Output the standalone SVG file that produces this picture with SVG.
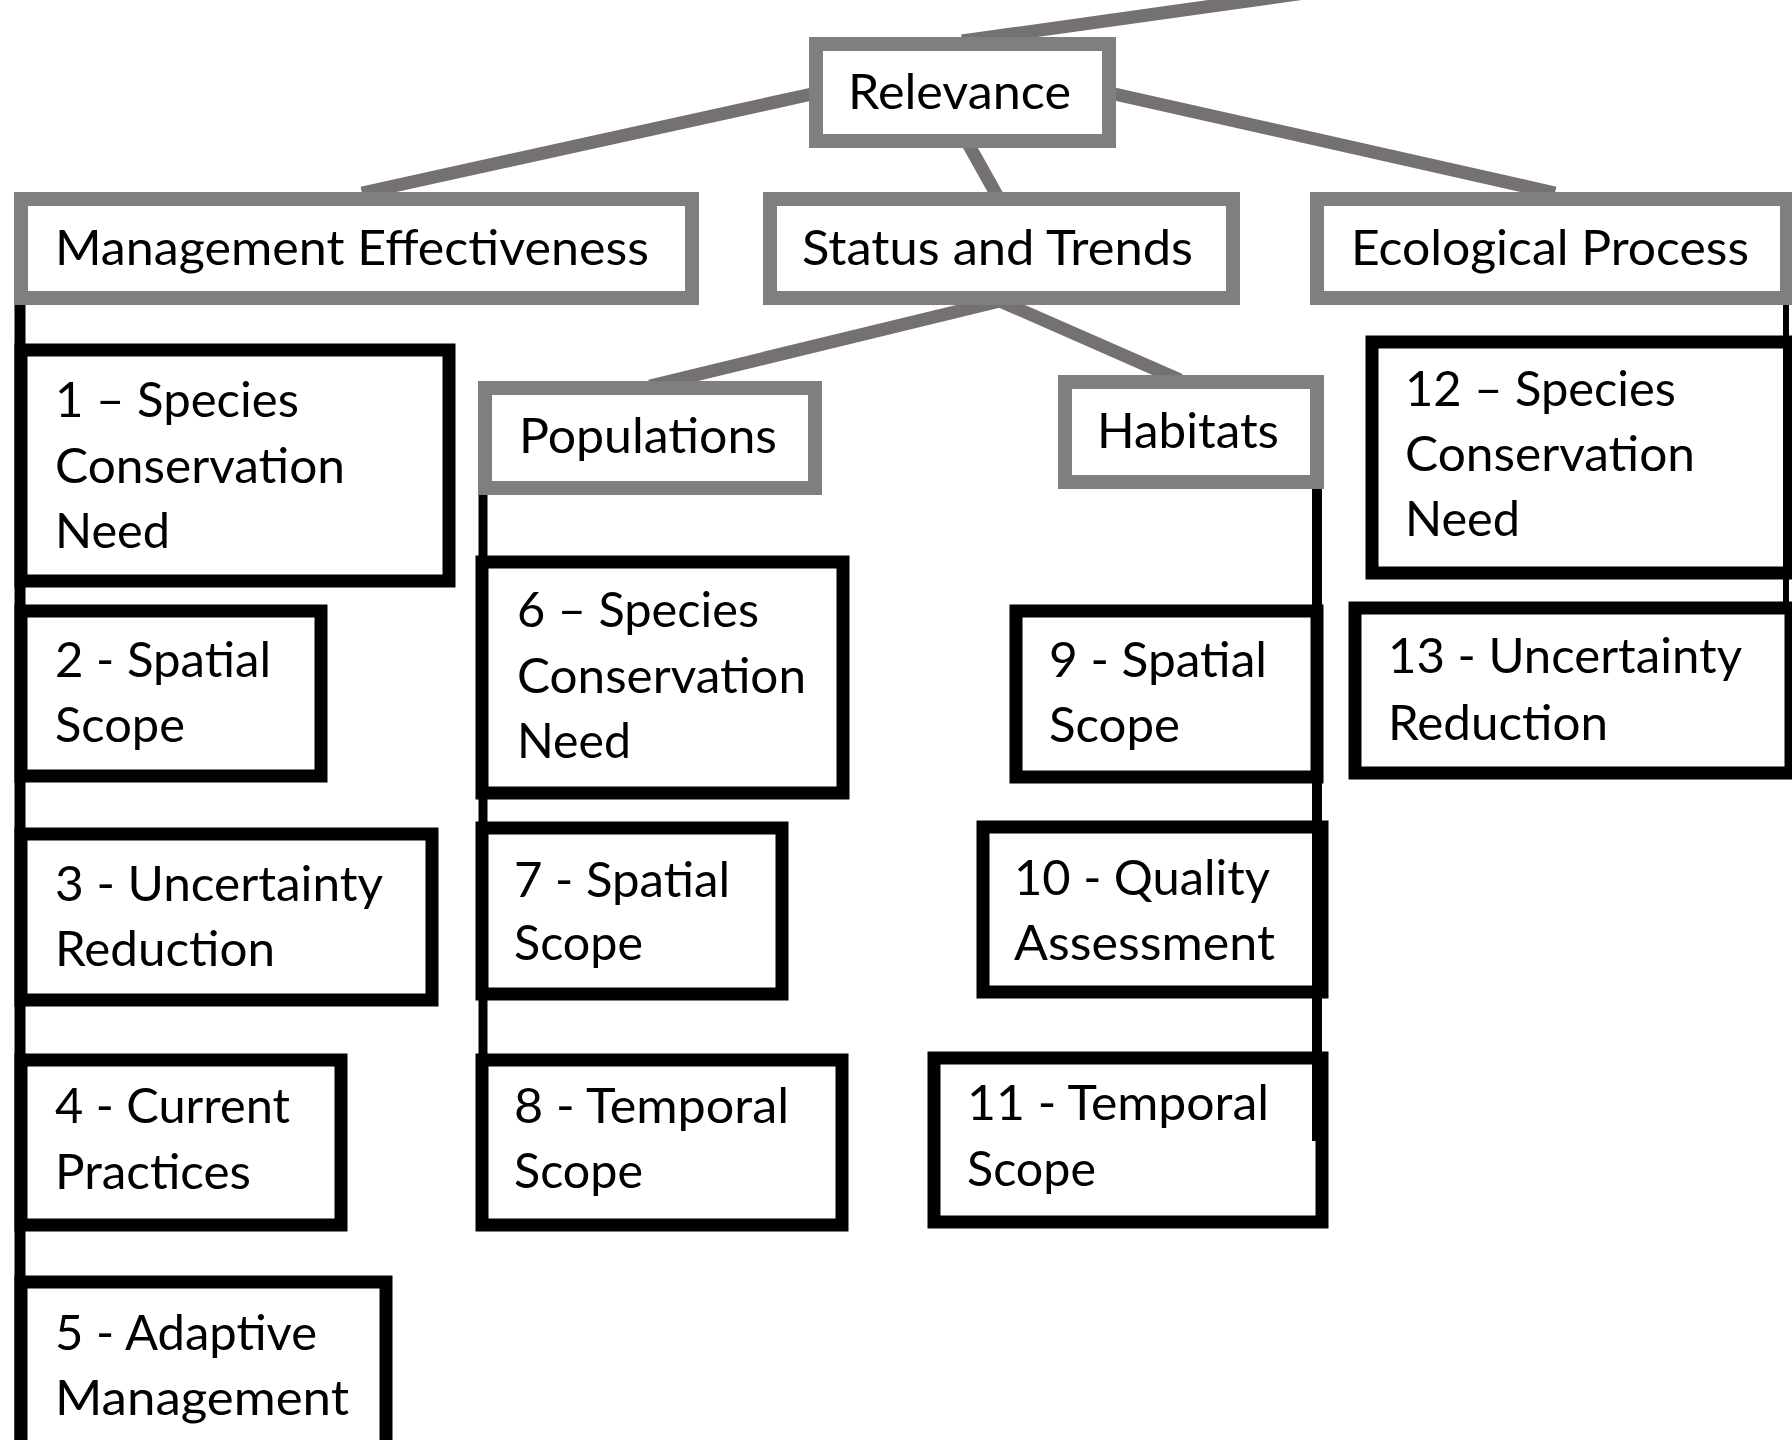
<svg xmlns="http://www.w3.org/2000/svg" width="1792" height="1440" viewBox="0 0 1792 1440">
  <style>
    .bg { fill: #ffffff; }
    .cat { fill: none; stroke: #7f7f7f; stroke-width: 14; }
    .item { fill: none; stroke: #000000; stroke-width: 13; }
    .link { stroke: #767171; stroke-width: 13; fill: none; }
    .stem { stroke: #000000; fill: none; }
    text { font-family: Lato, "Open Sans", "Liberation Sans", sans-serif; font-size: 48px; fill: #000000; }
  </style>
  <rect class="bg" x="0" y="0" width="1792" height="1440"/>

  <!-- tree connectors -->
  <g id="connectors">
    <line class="link" x1="962" y1="41" x2="1400" y2="-20.3"/>
    <line class="link" x1="812" y1="94" x2="362" y2="193"/>
    <line class="link" x1="966" y1="140" x2="999" y2="199"/>
    <line class="link" x1="1110" y1="93" x2="1555" y2="193"/>
    <line class="link" x1="1000" y1="301" x2="650" y2="386"/>
    <line class="link" x1="1000" y1="301" x2="1180" y2="380"/>
    <line class="stem" stroke-width="11" x1="20" y1="305" x2="20" y2="1440"/>
    <line class="stem" stroke-width="9" x1="483" y1="494" x2="483" y2="1056"/>
    <line class="stem" stroke-width="10" x1="1317" y1="488" x2="1317" y2="1141"/>
    <line class="stem" stroke-width="6" x1="1786" y1="305" x2="1786" y2="610"/>
  </g>

  <!-- category nodes -->
  <g id="relevance">
    <rect class="cat" x="816" y="44" width="293" height="97"/>
    <text x="848" y="109" textLength="223" lengthAdjust="spacingAndGlyphs">Relevance</text>
  </g>
  <g id="management-effectiveness">
    <rect class="cat" x="21" y="199" width="671" height="99"/>
    <text x="55" y="265" textLength="594" lengthAdjust="spacingAndGlyphs">Management Effectiveness</text>
  </g>
  <g id="status-and-trends">
    <rect class="cat" x="770" y="199" width="463" height="99"/>
    <text x="802" y="265" textLength="391" lengthAdjust="spacingAndGlyphs">Status and Trends</text>
  </g>
  <g id="ecological-process">
    <rect class="cat" x="1317" y="199" width="470" height="99"/>
    <text x="1351" y="265" textLength="398" lengthAdjust="spacingAndGlyphs">Ecological Process</text>
  </g>
  <g id="populations">
    <rect class="cat" x="485" y="388" width="330" height="100"/>
    <text x="519" y="453" textLength="258" lengthAdjust="spacingAndGlyphs">Populations</text>
  </g>
  <g id="habitats">
    <rect class="cat" x="1065" y="382" width="252" height="100"/>
    <text x="1097" y="448" textLength="182" lengthAdjust="spacingAndGlyphs">Habitats</text>
  </g>

  <!-- criteria nodes -->
  <g id="n1">
    <rect class="item" x="21" y="350" width="428" height="231"/>
    <text x="55" y="417" textLength="244" lengthAdjust="spacingAndGlyphs">1 – Species</text>
    <text x="55" y="483" textLength="290" lengthAdjust="spacingAndGlyphs">Conservation</text>
    <text x="55" y="548" textLength="115" lengthAdjust="spacingAndGlyphs">Need</text>
  </g>
  <g id="n2">
    <rect class="item" x="21" y="611" width="300" height="165"/>
    <text x="55" y="677" textLength="216" lengthAdjust="spacingAndGlyphs">2 - Spatial</text>
    <text x="55" y="742" textLength="130" lengthAdjust="spacingAndGlyphs">Scope</text>
  </g>
  <g id="n3">
    <rect class="item" x="21" y="834" width="411" height="166"/>
    <text x="55" y="901" textLength="328" lengthAdjust="spacingAndGlyphs">3 - Uncertainty</text>
    <text x="55" y="966" textLength="220" lengthAdjust="spacingAndGlyphs">Reduction</text>
  </g>
  <g id="n4">
    <rect class="item" x="21" y="1060" width="320" height="165"/>
    <text x="55" y="1123" textLength="235" lengthAdjust="spacingAndGlyphs">4 - Current</text>
    <text x="55" y="1189" textLength="196" lengthAdjust="spacingAndGlyphs">Practices</text>
  </g>
  <g id="n5">
    <rect class="item" x="21" y="1282" width="365" height="200"/>
    <text x="55" y="1350" textLength="262" lengthAdjust="spacingAndGlyphs">5 - Adaptive</text>
    <text x="55" y="1415" textLength="294" lengthAdjust="spacingAndGlyphs">Management</text>
  </g>
  <g id="n6">
    <rect class="item" x="482" y="562" width="361" height="231"/>
    <text x="517" y="627" textLength="242" lengthAdjust="spacingAndGlyphs">6 – Species</text>
    <text x="517" y="693" textLength="289" lengthAdjust="spacingAndGlyphs">Conservation</text>
    <text x="517" y="758" textLength="114" lengthAdjust="spacingAndGlyphs">Need</text>
  </g>
  <g id="n7">
    <rect class="item" x="482" y="828" width="300" height="166"/>
    <text x="514" y="897" textLength="216" lengthAdjust="spacingAndGlyphs">7 - Spatial</text>
    <text x="514" y="960" textLength="129" lengthAdjust="spacingAndGlyphs">Scope</text>
  </g>
  <g id="n8">
    <rect class="item" x="482" y="1060" width="360" height="165"/>
    <text x="514" y="1123" textLength="275" lengthAdjust="spacingAndGlyphs">8 - Temporal</text>
    <text x="514" y="1188" textLength="129" lengthAdjust="spacingAndGlyphs">Scope</text>
  </g>
  <g id="n9">
    <rect class="item" x="1016" y="611" width="301" height="166"/>
    <text x="1049" y="677" textLength="218" lengthAdjust="spacingAndGlyphs">9 - Spatial</text>
    <text x="1049" y="742" textLength="131" lengthAdjust="spacingAndGlyphs">Scope</text>
  </g>
  <g id="n10">
    <rect class="item" x="983" y="827" width="339" height="165"/>
    <text x="1014" y="895" textLength="256" lengthAdjust="spacingAndGlyphs">10 - Quality</text>
    <text x="1014" y="960" textLength="261" lengthAdjust="spacingAndGlyphs">Assessment</text>
  </g>
  <g id="n11">
    <rect class="item" x="934" y="1058" width="388" height="164"/>
    <text x="967" y="1120" textLength="302" lengthAdjust="spacingAndGlyphs">11 - Temporal</text>
    <text x="967" y="1186" textLength="129" lengthAdjust="spacingAndGlyphs">Scope</text>
  </g>
  <g id="n12">
    <rect class="item" x="1372" y="342" width="419" height="231"/>
    <text x="1405" y="406" textLength="271" lengthAdjust="spacingAndGlyphs">12 – Species</text>
    <text x="1405" y="471" textLength="290" lengthAdjust="spacingAndGlyphs">Conservation</text>
    <text x="1405" y="536" textLength="115" lengthAdjust="spacingAndGlyphs">Need</text>
  </g>
  <g id="n13">
    <rect class="item" x="1355" y="608" width="436" height="165"/>
    <text x="1388" y="673" textLength="354" lengthAdjust="spacingAndGlyphs">13 - Uncertainty</text>
    <text x="1388" y="740" textLength="220" lengthAdjust="spacingAndGlyphs">Reduction</text>
  </g>
</svg>
